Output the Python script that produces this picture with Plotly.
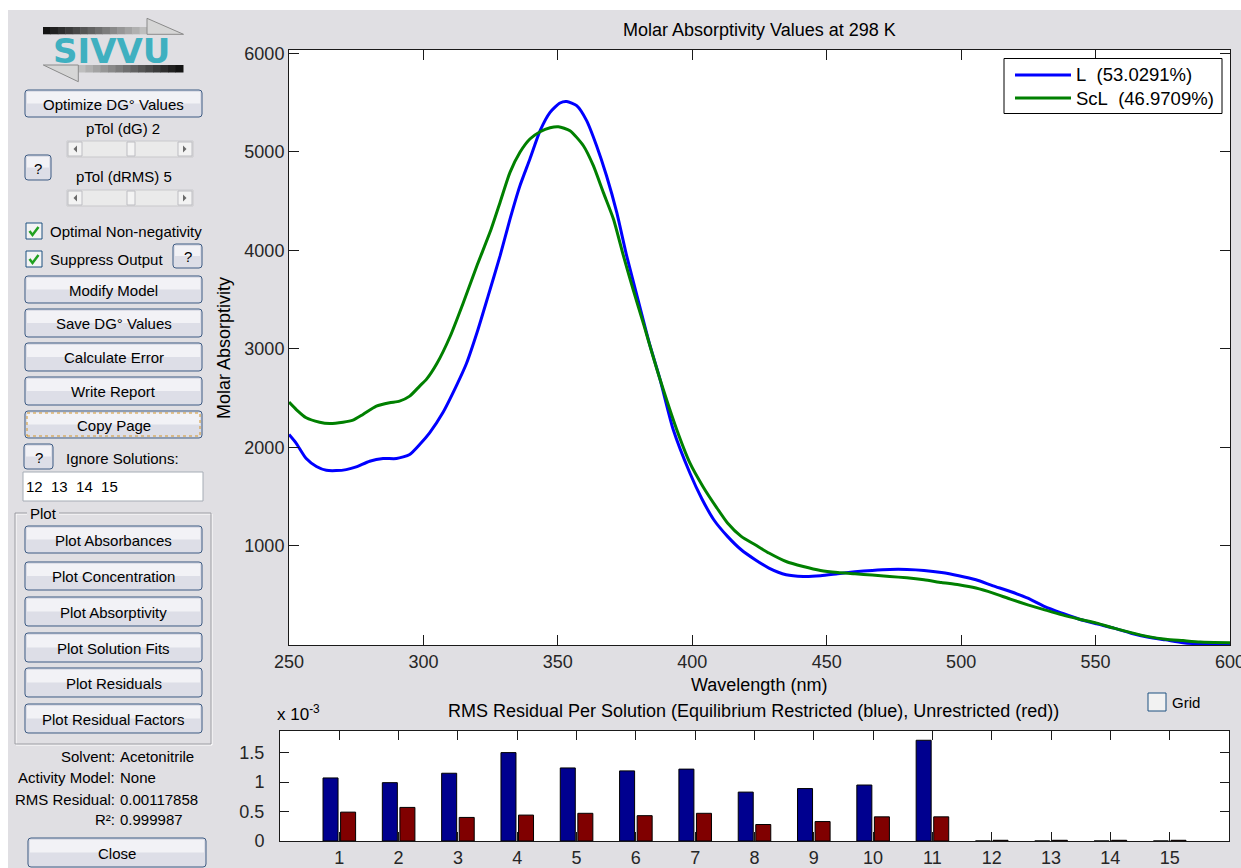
import plotly.graph_objects as go

W, H = 1241, 868
FONT = "Liberation Sans, Arial, sans-serif"

# ---- molar absorptivity spectra (wavelength in nm, absorptivity) ----
wl_L = [250, 252.7, 256.4, 260.2, 263.9, 267.6, 271.3, 275, 280, 285, 290, 294.9,
        298.6, 302.3, 307.2, 312.2, 316, 320, 324, 328.5, 332.2, 335.9, 339.6,
        343.4, 347.1, 350.8, 353.3, 357, 360.7, 364.4, 368.1, 371.9, 375.6, 380,
        384, 388, 392.9, 399.1, 403.5, 408, 413.1, 418.2, 423.4, 428.5, 434.9,
        441.3, 447.7, 454.1, 460.5, 466.9, 473.4, 479.8, 486.2, 492.7, 499.1,
        505.5, 511.9, 518.3, 524.8, 531.1, 537.6, 544, 550.4, 556.8, 563.2,
        569.7, 576.1, 582.5, 588.9, 595, 600]
eps_L = [2129, 2040, 1885, 1805, 1766, 1763, 1773, 1800, 1858, 1885, 1885, 1926,
         2027, 2146, 2350, 2621, 2850, 3170, 3530, 3943, 4316, 4655, 4927,
         5215, 5401, 5496, 5510, 5469, 5317, 5062, 4757, 4385, 3943, 3480,
         3060, 2690, 2180, 1739, 1480, 1264, 1095, 959, 858, 773, 705,
         688, 695, 715, 735, 749, 759, 759, 749, 728, 695,
         654, 593, 535, 468, 382, 315, 254, 207, 163, 112,
         71, 44, 16, 2, -5, -8]

wl_ScL = [250, 252.7, 256.4, 261.4, 265.1, 270.1, 273.8, 277.5, 282.5, 287.4, 291.1,
          294.9, 298.6, 301.1, 305, 310, 315, 320, 325, 328.5, 332.2, 335.9, 339.6,
          343.4, 347.1, 350.2, 354.5, 359.5, 363.2, 366.9, 370.7, 374.4, 378, 382,
          385, 388, 394.2, 399.1, 404, 409, 413.1, 418.2, 423.4, 428.5, 434.9,
          441.3, 447.7, 454.1, 460.5, 466.9, 473.4, 479.8, 486.2, 492.7, 499.1,
          505.5, 511.9, 518.3, 524.8, 531.1, 537.6, 544, 550.4, 556.8, 563.2,
          569.7, 576.1, 582.5, 588.9, 600]
eps_ScL = [2458, 2383, 2299, 2254, 2241, 2254, 2275, 2333, 2417, 2451, 2468,
           2519, 2621, 2689, 2850, 3130, 3480, 3850, 4200, 4486, 4791, 4995, 5130,
           5204, 5245, 5255, 5215, 5062, 4859, 4588, 4316, 3943, 3600, 3240,
           2960, 2690, 2180, 1841, 1600, 1390, 1231, 1095, 1010, 926, 840,
           789, 749, 728, 715, 702, 688, 674, 654, 627, 603,
           570, 519, 458, 400, 349, 298, 254, 214, 163, 118,
           77, 51, 37, 23, 16]

species_labels = ["L\u00a0\u00a0(53.0291%)", "ScL\u00a0\u00a0(46.9709%)"]
x_ticks = [250, 300, 350, 400, 450, 500, 550, 600]
y_ticks = [1000, 2000, 3000, 4000, 5000, 6000]

# ---- RMS residual per solution ----
solutions = list(range(1, 16))
rms_restricted = [1.07e-3, 0.99e-3, 1.15e-3, 1.50e-3, 1.24e-3, 1.19e-3, 1.22e-3,
                  0.83e-3, 0.89e-3, 0.95e-3, 1.71e-3, 0, 0, 0, 0]
rms_unrestricted = [0.49e-3, 0.57e-3, 0.40e-3, 0.44e-3, 0.47e-3, 0.43e-3, 0.47e-3,
                    0.28e-3, 0.33e-3, 0.41e-3, 0.41e-3, 0.012e-3, 0.012e-3,
                    0.012e-3, 0.012e-3]
rms_ticks = [0, 0.5e-3, 1.0e-3, 1.5e-3]
rms_ticktext = ["0", "0.5", "1", "1.5"]

# ---- side panel contents ----
panel_buttons = [
    ("Optimize DG° Values", 90, 117),
    ("Modify Model", 276, 303),
    ("Save DG° Values", 309, 337),
    ("Calculate Error", 343, 371),
    ("Write Report", 377, 405),
    ("Copy Page", 411, 438),
]
plot_buttons = [
    ("Plot Absorbances", 526, 553),
    ("Plot Concentration", 562, 590),
    ("Plot Absorptivity", 597, 626),
    ("Plot Solution Fits", 633, 662),
    ("Plot Residuals", 668, 697),
    ("Plot Residual Factors", 704, 733),
]
info_rows = [
    ("Solvent:", "Acetonitrile", 756),
    ("Activity Model:", "None", 777),
    ("RMS Residual:", "0.00117858", 799),
    ("R²:", "0.999987", 819),
]


def X(x):
    return x / W


def Y(y):
    return 1 - y / H


shapes = []
annotations = []


def rect(x0, y0, x1, y1, fill=None, line=None, lw=1, dash=None, layer="above"):
    shapes.append(dict(
        type="rect", xref="paper", yref="paper",
        x0=X(x0), x1=X(x1), y0=Y(y1), y1=Y(y0),
        fillcolor=fill or "rgba(0,0,0,0)",
        line=dict(color=line or "rgba(0,0,0,0)", width=lw if line else 0,
                  dash=dash or "solid"),
        layer=layer))


def path(points, closed=True, fill=None, line=None, lw=1, layer="above"):
    d = "M" + " L".join(f"{X(a):.6f},{Y(b):.6f}" for a, b in points)
    if closed:
        d += " Z"
    shapes.append(dict(
        type="path", xref="paper", yref="paper", path=d,
        fillcolor=fill or "rgba(0,0,0,0)",
        line=dict(color=line or "rgba(0,0,0,0)", width=lw if line else 0),
        layer=layer))


def rounded(x0, y0, x1, y1, r=3, fill=None, line=None, lw=1):
    def p(a, b):
        return f"{X(a):.6f},{Y(b):.6f}"
    d = (f"M{p(x0 + r, y0)} L{p(x1 - r, y0)} Q{p(x1, y0)} {p(x1, y0 + r)} "
         f"L{p(x1, y1 - r)} Q{p(x1, y1)} {p(x1 - r, y1)} L{p(x0 + r, y1)} "
         f"Q{p(x0, y1)} {p(x0, y1 - r)} L{p(x0, y0 + r)} Q{p(x0, y0)} {p(x0 + r, y0)} Z")
    shapes.append(dict(
        type="path", xref="paper", yref="paper", path=d,
        fillcolor=fill or "rgba(0,0,0,0)",
        line=dict(color=line or "rgba(0,0,0,0)", width=lw if line else 0),
        layer="above"))


def text(s, x, y, size=15, anchor="center", color="black", family=FONT, **kw):
    annotations.append(dict(
        text=s, x=X(x), y=Y(y), xref="paper", yref="paper", showarrow=False,
        xanchor=anchor, yanchor="middle",
        font=dict(size=size, color=color, family=family), **kw))


def button(label, x0, y0, x1, y1, focus=False, size=15):
    rounded(x0, y0, x1, y1, 3, fill="#DDDEE7")
    rect(x0 + 2, y0 + 2, x1 - 2, (y0 + y1) / 2, fill="#F2F2F6")
    rounded(x0, y0, x1, y1, 3, line="#3D5B83", lw=1)
    if focus:
        rect(x0 + 2, y0 + 2, x1 - 2, y1 - 2, line="#D2952A", lw=1, dash="dot")
    text(label, (x0 + x1) / 2, (y0 + y1) / 2 + 0.5, size=size)


def checkbox(x0, y0, size=16, checked=True):
    rect(x0, y0, x0 + size, y0 + size, fill="#F4F4F4", line="#1C5180", lw=1)
    if checked:
        path([(x0 + 3.5, y0 + 8), (x0 + 6.5, y0 + 12), (x0 + 12.5, y0 + 4)],
             closed=False, line="#21A121", lw=2.5)


def slider(y0, y1):
    yc = (y0 + y1) / 2
    rect(67, y0, 193, y1, fill="#EAEAEA", line="#C9C9CC")
    rect(68, y0 + 1, 82, y1 - 1, fill="#F3F3F3", line="#BDBDC2")
    rect(178, y0 + 1, 192, y1 - 1, fill="#F3F3F3", line="#BDBDC2")
    rect(127, y0 + 1, 135, y1 - 1, fill="#F3F3F3", line="#BDBDC2")
    path([(77, yc - 3.5), (73.5, yc), (77, yc + 3.5)], fill="#6A6A6A")
    path([(183, yc - 3.5), (186.5, yc), (183, yc + 3.5)], fill="#6A6A6A")


# ---- window background and axes backgrounds ----
rect(8, 10, W + 2, H + 2, fill="#E0DFE3", layer="below")
rect(289, 50, 1230, 645, fill="white", layer="below")
rect(280, 731, 1229, 841, fill="white", layer="below")

# ---- logo: two shaded arrows around the name ----
n = 14
for i in range(n):
    a = 43 + (147 - 43) * i / n
    b = 43 + (147 - 43) * (i + 1) / n + 0.5
    g = int(20 + 170 * i / (n - 1))
    rect(a, 27, b, 34.3, fill=f"rgb({g},{g},{g})")
path([(147, 18.3), (183.5, 34.3), (147, 34.3)], fill="#D6D6D6", line="#8A8A8A", lw=1)
for i in range(n):
    a = 78 + (183 - 78) * i / n
    b = 78 + (183 - 78) * (i + 1) / n + 0.5
    g = int(190 - 170 * i / (n - 1))
    rect(a, 65, b, 72.5, fill=f"rgb({g},{g},{g})")
path([(78.3, 65), (78.3, 81.7), (43.3, 65)], fill="#D6D6D6", line="#8A8A8A", lw=1)
text("<b>SIVVU</b>", 111, 50.5, size=34, color="#3FB0C0",
     family="DejaVu Sans, sans-serif")

# ---- side panel ----
for label, y0, y1 in panel_buttons:
    button(label, 25, y0, 202, y1, focus=(label == "Copy Page"))

button("?", 25, 155, 51, 180)
text("pTol (dG) 2", 123, 128)
slider(141, 157)
text("pTol (dRMS) 5", 123.5, 177)
slider(190, 206)

checkbox(26, 223)
text("Optimal Non-negativity", 48, 231.5, anchor="left")
checkbox(26, 251)
text("Suppress Output", 48, 259.5, anchor="left")
button("?", 173, 244, 202, 268)

button("?", 24, 444, 53, 469)
text("Ignore Solutions:", 64, 459, anchor="left")
rect(23, 472, 203, 501, fill="white", line="#A5ACB5")
text("12\u00a0\u00a013\u00a0\u00a014\u00a0\u00a015", 24, 486.5, anchor="left")

# "Plot" group frame
rect(16, 514, 212, 745, line="#FFFFFF")
rect(15, 513, 211, 744, line="#9C9CA2")
rect(27, 505, 59, 521, fill="#E0DFE3")
text("Plot", 43, 513)
for label, y0, y1 in plot_buttons:
    button(label, 25, y0, 202, y1)

for lab, val, yy in info_rows:
    text(lab, 117, yy, anchor="right")
    text(val, 118, yy, anchor="left")

button("Close", 28, 838, 206, 867)

# ---- titles and labels around the axes ----
text("Molar Absorptivity Values at 298 K", 759, 30, size=18)
text("Molar Absorptivity", 224, 348, size=18, textangle=-90)
text("Wavelength (nm)", 759, 685, size=18)
text("RMS Residual Per Solution (Equilibrium Restricted (blue), Unrestricted (red))",
     753, 711, size=18)
text("x 10<sup>-3</sup>", 275, 713, size=17, anchor="left")

# Grid checkbox
rect(1148, 693, 1166, 711, fill="#F2F2F2", line="#1C5180")
text("Grid", 1170, 702, size=15, anchor="left")

# ---- legend box ----
rect(1004, 58.5, 1222, 113.5, fill="white", line="black", lw=1)
shapes.append(dict(type="line", xref="paper", yref="paper", x0=X(1015), x1=X(1071),
                   y0=Y(75), y1=Y(75), line=dict(color="#0000FF", width=3)))
shapes.append(dict(type="line", xref="paper", yref="paper", x0=X(1015), x1=X(1071),
                   y0=Y(98), y1=Y(98), line=dict(color="#008000", width=3)))
text(species_labels[0], 1074, 75, size=18.5, anchor="left")
text(species_labels[1], 1074, 98, size=18.5, anchor="left")

# ---- traces ----
fig = go.Figure()
fig.add_trace(go.Scatter(x=wl_L, y=eps_L, mode="lines", name=species_labels[0],
                         line=dict(color="#0000FF", width=3, shape="spline",
                                   smoothing=0.6),
                         xaxis="x", yaxis="y"))
fig.add_trace(go.Scatter(x=wl_ScL, y=eps_ScL, mode="lines", name=species_labels[1],
                         line=dict(color="#008000", width=3, shape="spline",
                                   smoothing=0.6),
                         xaxis="x", yaxis="y"))
fig.add_trace(go.Bar(x=solutions, y=rms_restricted, name="Equilibrium Restricted",
                     marker=dict(color="#00008F", line=dict(color="black", width=1)),
                     xaxis="x2", yaxis="y2"))
fig.add_trace(go.Bar(x=solutions, y=rms_unrestricted, name="Unrestricted",
                     marker=dict(color="#800000", line=dict(color="black", width=1)),
                     xaxis="x2", yaxis="y2"))

axis_common = dict(
    showline=True, linecolor="#1A1A1A", linewidth=1, mirror="ticks",
    ticks="inside", tickcolor="#1A1A1A", tickwidth=1,
    showgrid=False, zeroline=False, automargin=False,
    ticklabeloverflow="allow",
    tickfont=dict(size=18, color="#262626", family=FONT),
)

fig.update_layout(
    width=W, height=H, autosize=False,
    margin=dict(l=0, r=0, t=0, b=0, pad=0),
    paper_bgcolor="white", plot_bgcolor="white",
    showlegend=False,
    barmode="group", bargap=0.408, bargroupgap=0.145,
    xaxis=dict(domain=[X(289), X(1230)], range=[250, 600], tickvals=x_ticks,
               ticklen=10, anchor="y", **axis_common),
    yaxis=dict(domain=[Y(645), Y(50)], range=[-8, 6034], tickvals=y_ticks,
               ticklen=10, anchor="x", **axis_common),
    xaxis2=dict(domain=[X(280), X(1229)], range=[0, 16], tickvals=solutions,
                ticklen=9, anchor="y2", **axis_common),
    yaxis2=dict(domain=[Y(841), Y(731)], range=[0, 1.867e-3], tickvals=rms_ticks,
                ticktext=rms_ticktext, ticklen=9, anchor="x2",
                ticklabelstandoff=11, **axis_common),
    shapes=shapes,
    annotations=annotations,
)

fig.write_html("out.html")
